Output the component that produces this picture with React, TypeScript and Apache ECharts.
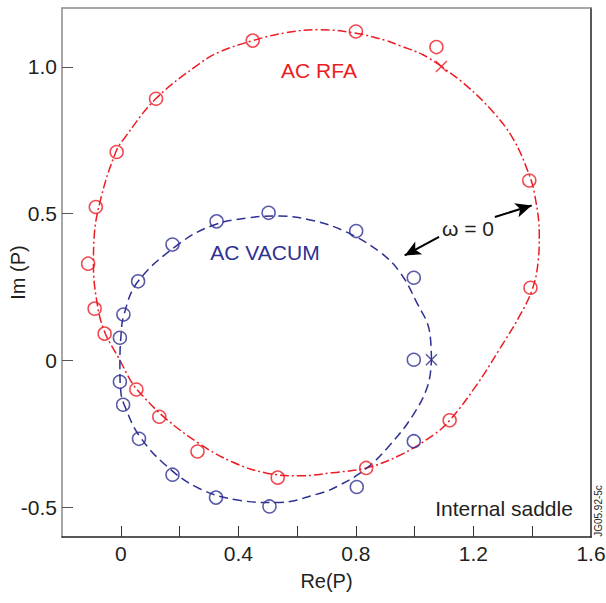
import React, { useEffect, useRef } from "react";
import * as echarts from "echarts";

const RED = "#ec1c24";
const BLUE = "#2e3192";

const xTickValues = [0, 0.2, 0.4, 0.6, 0.8, 1.0, 1.2, 1.4];
const xLabelValues = [0, 0.4, 0.8, 1.2, 1.6];
const yTickValues = [-0.5, 0, 0.5, 1.0];

// AC RFA fitted curve (closed loop, starting at the x mark)
const rfaCurve: number[][] = [
  [1.091, 1.001], [1.028, 1.041], [0.949, 1.072], [0.904, 1.089], [0.79, 1.116],
  [0.676, 1.126], [0.563, 1.116], [0.449, 1.089], [0.335, 1.05], [0.267, 1.01],
  [0.119, 0.891], [0.011, 0.755], [-0.017, 0.71], [-0.068, 0.551], [-0.091, 0.415],
  [-0.093, 0.33], [-0.083, 0.211], [-0.057, 0.103], [-0.006, 0.007], [0.04, -0.078],
  [0.073, -0.118], [0.153, -0.197], [0.267, -0.282], [0.38, -0.345], [0.494, -0.382],
  [0.608, -0.392], [0.721, -0.381], [0.835, -0.365], [0.949, -0.322], [1.062, -0.254],
  [1.119, -0.203], [1.21, -0.084], [1.29, 0.041], [1.358, 0.154], [1.401, 0.245],
  [1.42, 0.336], [1.424, 0.426], [1.409, 0.562], [1.386, 0.642], [1.335, 0.755],
  [1.267, 0.846], [1.176, 0.936], [1.091, 1.001],
];

// AC VACUM fitted curve (closed loop, starting at the x mark)
const vacCurve: number[][] = [
  [1.057, 0.003], [1.051, 0.098], [1.006, 0.2], [0.949, 0.302], [0.881, 0.37],
  [0.767, 0.438], [0.653, 0.477], [0.54, 0.492], [0.426, 0.485], [0.312, 0.46],
  [0.199, 0.398], [0.059, 0.27], [0.011, 0.157], [0.0, 0.075], [-0.003, -0.016],
  [0.0, -0.105], [0.017, -0.163], [0.062, -0.254], [0.153, -0.356], [0.267, -0.435],
  [0.403, -0.475], [0.528, -0.483], [0.676, -0.452], [0.744, -0.424], [0.835, -0.367],
  [0.915, -0.288], [0.994, -0.186], [1.045, -0.084], [1.057, 0.003],
];

// measured points
const rfaPoints: number[][] = [
  [1.074, 1.067], [0.8, 1.12], [0.449, 1.089], [0.12, 0.891], [-0.014, 0.71],
  [-0.085, 0.523], [-0.111, 0.33], [-0.089, 0.177], [-0.055, 0.092], [0.053, -0.098],
  [0.131, -0.191], [0.261, -0.309], [0.534, -0.398], [0.835, -0.365], [1.119, -0.203],
  [1.394, 0.248], [1.39, 0.613],
];

const vacPoints: number[][] = [
  [0.997, 0.003], [0.997, 0.282], [0.801, 0.441], [0.503, 0.503], [0.326, 0.474],
  [0.176, 0.395], [0.059, 0.27], [0.009, 0.157], [-0.003, 0.078], [-0.003, -0.072],
  [0.008, -0.15], [0.062, -0.266], [0.176, -0.388], [0.324, -0.466], [0.506, -0.496],
  [0.803, -0.43], [0.997, -0.274],
];

const rfaCross: number[][] = [[1.091, 1.001]];
const vacCross: number[][] = [[1.057, 0.003]];

// omega = 0 arrows: [from, to]
const arrowRfa = [[1.273, 0.489], [1.398, 0.528]];
const arrowVac = [[1.083, 0.421], [0.966, 0.358]];

const FONT = "'Liberation Sans', Arial, Helvetica, sans-serif";
const TXT = "#231f20";

function fmt(v: number) {
  if (v === 0) return "0";
  return v.toFixed(1);
}

export default function App() {
  const ref = useRef<HTMLDivElement>(null);
  useEffect(() => {
    if (!ref.current) return;
    const chart = echarts.init(ref.current, null, { renderer: "svg" });
    const crossSymbol = "path://M0,0L10,10M10,0L0,10";
    const option: any = {
      animation: false,
      grid: { left: 62, top: 8, right: 15, bottom: 66, containLabel: false, outerBoundsMode: "none" },
      xAxis: [
        {
          type: "value", min: -0.2, max: 1.6, position: "bottom",
          name: "Re(P)", nameLocation: "middle", nameGap: 34,
          nameTextStyle: { fontFamily: FONT, fontSize: 20, color: TXT },
          axisLine: { show: true, onZero: false, lineStyle: { color: "#222", width: 1.5 } },
          axisTick: { show: true, inside: true, length: 11, customValues: xTickValues, lineStyle: { color: "#333", width: 1 } },
          axisLabel: { show: true, customValues: xLabelValues, formatter: fmt, margin: 6, fontFamily: FONT, fontSize: 21, color: TXT },
          splitLine: { show: false },
        },
        {
          type: "value", min: -0.2, max: 1.6, position: "top",
          axisLine: { show: true, onZero: false, lineStyle: { color: "#8a8a8a", width: 1.5 } },
          axisTick: { show: false }, axisLabel: { show: false }, splitLine: { show: false },
        },
      ],
      yAxis: [
        {
          type: "value", min: -0.6, max: 1.2, position: "left",
          name: "Im (P)", nameLocation: "middle", nameGap: 34, nameRotate: 90, nameMoveOverlap: false,
          nameTextStyle: { fontFamily: FONT, fontSize: 20, color: TXT },
          axisLine: { show: true, onZero: false, lineStyle: { color: "#8a8a8a", width: 1.5 } },
          axisTick: { show: true, inside: true, length: 11, customValues: yTickValues, lineStyle: { color: "#555", width: 1 } },
          axisLabel: { show: true, customValues: yTickValues, formatter: fmt, margin: 5, fontFamily: FONT, fontSize: 21, color: TXT },
          splitLine: { show: false },
        },
        {
          type: "value", min: -0.6, max: 1.2, position: "right",
          axisLine: { show: true, onZero: false, lineStyle: { color: "#222", width: 1.5 } },
          axisTick: { show: false }, axisLabel: { show: false }, splitLine: { show: false },
        },
      ],
      series: [
        {
          type: "line", name: "AC RFA curve", data: rfaCurve, smooth: 0.4, showSymbol: false,
          lineStyle: { color: RED, width: 1.5, type: [9, 3, 2, 3] }, z: 2,
        },
        {
          type: "line", name: "AC VACUM curve", data: vacCurve, smooth: 0.4, showSymbol: false,
          lineStyle: { color: BLUE, width: 1.5, type: [9, 5] }, z: 2,
        },
        {
          type: "scatter", name: "AC RFA", data: rfaPoints, symbol: "circle", symbolSize: 13,
          itemStyle: { color: "rgba(0,0,0,0)", borderColor: RED, borderWidth: 1.5 }, z: 3,
        },
        {
          type: "scatter", name: "AC VACUM", data: vacPoints, symbol: "circle", symbolSize: 13,
          itemStyle: { color: "rgba(0,0,0,0)", borderColor: BLUE, borderWidth: 1.5 }, z: 3,
        },
        {
          type: "scatter", name: "RFA x", data: rfaCross, symbol: crossSymbol, symbolSize: 11,
          itemStyle: { color: "none", borderColor: RED, borderWidth: 1.5 }, z: 3,
        },
        {
          type: "scatter", name: "VAC x", data: vacCross, symbol: crossSymbol, symbolSize: 11,
          itemStyle: { color: "none", borderColor: BLUE, borderWidth: 1.5 }, z: 3,
          markLine: {
            silent: true,
            symbol: ["none", "arrow"],
            symbolSize: [11, 16],
            label: { show: false },
            lineStyle: { color: "#000", width: 2, type: "solid" },
            data: [
              [{ coord: arrowRfa[0] }, { coord: arrowRfa[1] }],
              [{ coord: arrowVac[0] }, { coord: arrowVac[1] }],
            ],
          },
        },
      ],
      graphic: [
        { type: "text", x: 319, y: 70, style: { text: "AC RFA", fill: RED, font: `21px ${FONT}`, textAlign: "center", textVerticalAlign: "middle" } },
        { type: "text", x: 265, y: 252, style: { text: "AC VACUM", fill: BLUE, font: `21px ${FONT}`, textAlign: "center", textVerticalAlign: "middle" } },
        { type: "text", x: 468, y: 228, style: { text: "ω = 0", fill: TXT, font: `21px ${FONT}`, textAlign: "center", textVerticalAlign: "middle" } },
        { type: "text", x: 504, y: 508, style: { text: "Internal saddle", fill: TXT, font: `21px ${FONT}`, textAlign: "center", textVerticalAlign: "middle" } },
        { type: "text", x: 598, y: 511, rotation: Math.PI / 2, style: { text: "JG05.92-5c", fill: TXT, font: `10px ${FONT}`, textAlign: "center", textVerticalAlign: "middle" } },
      ],
    };
    chart.setOption(option);
    return () => chart.dispose();
  }, []);
  return <div ref={ref} style={{ width: 606, height: 603, position: "absolute", left: 0, top: 0 }} />;
}
